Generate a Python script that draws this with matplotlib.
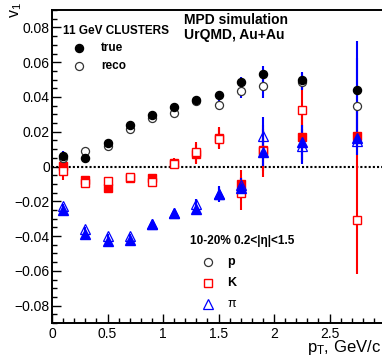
import numpy as np
import matplotlib.pyplot as plt

plt.rcParams['font.family'] = ['Liberation Sans', 'DejaVu Sans']
plt.rcParams['mathtext.fontset'] = 'custom'
plt.rcParams['mathtext.rm'] = 'Liberation Sans'

pt = [0.1, 0.3, 0.5, 0.7, 0.9, 1.1, 1.3, 1.5, 1.7, 1.9, 2.25, 2.75]

# protons
p_true = [0.0058, 0.0048, 0.0138, 0.0238, 0.0298, 0.0345, 0.0385, 0.0410, 0.0487, 0.0533, 0.0496, 0.0443]
p_true_err = [0.003, 0.001, 0.001, 0.001, 0.001, 0.001, 0.001, 0.0025, 0.003, 0.0045, 0.005, 0.028]
p_reco = [0.0050, 0.0088, 0.0120, 0.0218, 0.0280, 0.0310, 0.0375, 0.0356, 0.0433, 0.0466, 0.0488, 0.0347]
p_reco_err = [0.003, 0.001, 0.001, 0.001, 0.001, 0.001, 0.001, 0.003, 0.004, 0.007, 0.005, 0.028]

# kaons
k_true = [0.0005, -0.0080, -0.0122, -0.0068, -0.0065, 0.0021, 0.0072, 0.0165, -0.0098, 0.0094, 0.0171, 0.0178]
k_true_err = [0.003, 0.001, 0.001, 0.001, 0.001, 0.003, 0.006, 0.006, 0.008, 0.012, 0.015, 0.018]
k_reco = [-0.0027, -0.0092, -0.0084, -0.0060, -0.0088, 0.0015, 0.0082, 0.0160, -0.0155, 0.0090, 0.0328, -0.0309]
k_reco_err = [0.005, 0.001, 0.001, 0.001, 0.001, 0.003, 0.006, 0.006, 0.0095, 0.015, 0.015, 0.031]

# pions
pi_true = [-0.0251, -0.0390, -0.0429, -0.0425, -0.0333, -0.0270, -0.0243, -0.0157, -0.0125, 0.0082, 0.0140, 0.0167]
pi_true_err = [0.001, 0.001, 0.001, 0.001, 0.001, 0.001, 0.003, 0.0045, 0.0055, 0.008, 0.010, 0.002]
pi_reco = [-0.0228, -0.0358, -0.0400, -0.0397, -0.0330, -0.0265, -0.0218, -0.0160, -0.0105, 0.0174, 0.0117, 0.0146]
pi_reco_err = [0.001, 0.001, 0.001, 0.001, 0.001, 0.001, 0.003, 0.004, 0.004, 0.011, 0.010, 0.002]

fig = plt.figure(figsize=(3.82, 3.56), dpi=100)
ax = fig.add_axes([0.1361, 0.0927, 0.872, 0.879])

red = '#ff0000'
blue = '#0000ff'

ax.axhline(0, color='black', lw=1.5, ls=(0, (1, 1)), zorder=1)

# error bars: kaons first, then protons, then pions
ax.errorbar(pt, k_reco, yerr=k_reco_err, fmt='none', ecolor=red, elinewidth=1.5, capsize=0, zorder=2)
ax.errorbar(pt, k_true, yerr=k_true_err, fmt='none', ecolor=red, elinewidth=1.5, capsize=0, zorder=2)
ax.errorbar(pt, p_reco, yerr=p_reco_err, fmt='none', ecolor=blue, elinewidth=1.5, capsize=0, zorder=3)
ax.errorbar(pt, p_true, yerr=p_true_err, fmt='none', ecolor=blue, elinewidth=1.5, capsize=0, zorder=3)
ax.errorbar(pt, pi_reco, yerr=pi_reco_err, fmt='none', ecolor=blue, elinewidth=1.5, capsize=0, zorder=4)
ax.errorbar(pt, pi_true, yerr=pi_true_err, fmt='none', ecolor=blue, elinewidth=1.5, capsize=0, zorder=4)

# markers
ax.plot(pt, k_true, 's', color=red, ms=6.3, ls='none', zorder=5)
ax.plot(pt, k_reco, 's', mfc='white', mec=red, mew=1.0, ms=6.3, ls='none', zorder=5)
ax.plot(pt, pi_reco, '^', mfc='none', mec=blue, mew=0.9, ms=6.5, ls='none', zorder=5)
ax.plot(pt, pi_true, '^', color=blue, ms=6.5, ls='none', zorder=5)
ax.plot(pt, p_reco, 'o', mfc='white', mec='#333333', mew=0.9, ms=5.8, ls='none', zorder=6)
ax.plot(pt, p_true, 'o', color='black', ms=5.8, ls='none', zorder=6)

ax.set_xlim(0, 3)
ax.set_ylim(-0.09, 0.09)
ax.set_xticks([0, 0.5, 1, 1.5, 2, 2.5, 3])
ax.set_xticklabels(['0', '0.5', '1', '1.5', '2', '2.5', '3'])
ax.set_xticks(np.arange(0, 3.01, 0.1), minor=True)
ax.set_yticks([-0.08, -0.06, -0.04, -0.02, 0, 0.02, 0.04, 0.06, 0.08])
ax.set_yticklabels(['\u22120.08', '\u22120.06', '\u22120.04', '\u22120.02', '0',
                    '0.02', '0.04', '0.06', '0.08'])
ax.set_yticks(np.arange(-0.09, 0.0901, 0.005), minor=True)
ax.tick_params(which='both', direction='in', top=False, right=False, labelsize=10, width=1.0)
ax.tick_params(which='major', length=6.5)
ax.tick_params(which='minor', length=3.3)
ax.tick_params(axis='x', pad=3)
ax.tick_params(axis='y', pad=1.5)
for s in ax.spines.values():
    s.set_linewidth(1.4)

# legends
ax.text(0.033, 0.933, '11 GeV CLUSTERS', transform=ax.transAxes, fontsize=8.5,
        fontweight='bold', va='center', ha='left')
ax.plot([0.081], [0.879], 'o', color='black', ms=5.8, transform=ax.transAxes)
ax.plot([0.081], [0.821], 'o', mfc='white', mec='#333333', mew=0.9, ms=5.8, transform=ax.transAxes)
ax.text(0.147, 0.879, 'true', transform=ax.transAxes, fontsize=8.5, fontweight='bold', va='center')
ax.text(0.147, 0.821, 'reco', transform=ax.transAxes, fontsize=8.5, fontweight='bold', va='center')

ax.text(0.396, 0.968, 'MPD simulation', transform=ax.transAxes, fontsize=10,
        fontweight='bold', va='center')
ax.text(0.396, 0.920, 'UrQMD, Au+Au', transform=ax.transAxes, fontsize=10,
        fontweight='bold', va='center')

ax.text(0.414, 0.262, '10-20% 0.2<|\u03b7|<1.5', transform=ax.transAxes, fontsize=8.5,
        fontweight='bold', va='center')
ax.plot([0.468], [0.195], 'o', mfc='white', mec='#333333', mew=0.9, ms=5.8, transform=ax.transAxes)
ax.plot([0.468], [0.128], 's', mfc='white', mec=red, mew=1.0, ms=6.3, transform=ax.transAxes)
ax.plot([0.468], [0.061], '^', mfc='none', mec=blue, mew=0.9, ms=6.5, transform=ax.transAxes)
ax.text(0.526, 0.195, 'p', transform=ax.transAxes, fontsize=9, fontweight='bold', va='center')
ax.text(0.526, 0.128, 'K', transform=ax.transAxes, fontsize=9, fontweight='bold', va='center')
ax.text(0.526, 0.061, '\u03c0', transform=ax.transAxes, fontsize=9, va='center')

fig.text(0.042, 0.995, r'$\mathregular{v_1}$', rotation=90, fontsize=11.5, ha='center', va='top')
fig.text(0.803, -0.004, r'$\mathregular{p_T}$, GeV/c', fontsize=12, ha='left', va='bottom')

fig.savefig('out.png', dpi=100)
